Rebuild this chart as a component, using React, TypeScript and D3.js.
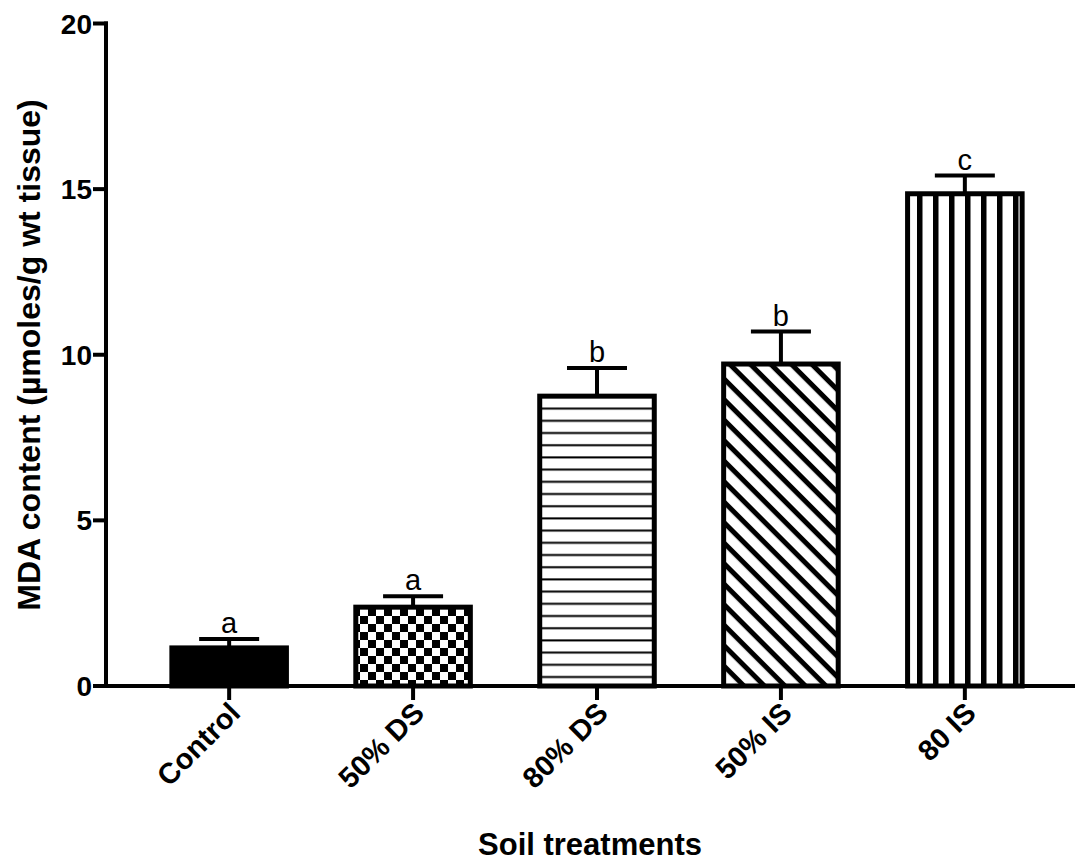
import React, { useEffect, useRef } from "react";
import * as d3 from "d3";

const categories = ["Control", "50% DS", "80% DS", "50% IS", "80 IS"];
const means = [1.15, 2.38, 8.75, 9.72, 14.86];
const errors = [0.27, 0.33, 0.85, 0.98, 0.55];
const letters = ["a", "a", "b", "b", "c"];
const patterns = ["solid", "checker", "hlines", "diag", "vlines"];
const yTicks = [0, 5, 10, 15, 20];

const App = () => {
  const ref = useRef<SVGSVGElement>(null);

  useEffect(() => {
    const svg = d3.select(ref.current);
    svg.selectAll("*").remove();

    const width = 1076, height = 862;
    const font = "'Liberation Sans', Arial, sans-serif";

    const x = d3.scaleBand().domain(categories).range([105, 1089]).padding(0.35);
    const y = d3.scaleLinear().domain([0, 20]).range([686, 23.5]);

    const defs = svg.append("defs");

    // checkerboard
    const chk = defs.append("pattern").attr("id", "p-checker")
      .attr("patternUnits", "userSpaceOnUse").attr("width", 16).attr("height", 16);
    chk.append("rect").attr("width", 16).attr("height", 16).attr("fill", "#fff");
    chk.append("rect").attr("width", 8).attr("height", 8).attr("fill", "#000");
    chk.append("rect").attr("x", 8).attr("y", 8).attr("width", 8).attr("height", 8).attr("fill", "#000");

    // horizontal lines
    const hl = defs.append("pattern").attr("id", "p-hlines")
      .attr("patternUnits", "userSpaceOnUse").attr("width", 12).attr("height", 12.2);
    hl.append("rect").attr("width", 12).attr("height", 12.2).attr("fill", "#fff");
    hl.append("rect").attr("y", 5).attr("width", 12).attr("height", 2).attr("fill", "#000");

    // diagonal lines (\ direction)
    const dg = defs.append("pattern").attr("id", "p-diag")
      .attr("patternUnits", "userSpaceOnUse").attr("width", 14.5).attr("height", 14.5)
      .attr("patternTransform", "rotate(45)");
    dg.append("rect").attr("width", 14.5).attr("height", 14.5).attr("fill", "#fff");
    dg.append("rect").attr("x", 0).attr("width", 14.5).attr("height", 5).attr("fill", "#000");

    // vertical lines
    const vl = defs.append("pattern").attr("id", "p-vlines")
      .attr("patternUnits", "userSpaceOnUse").attr("width", 16).attr("height", 16)
      .attr("x", 5);
    vl.append("rect").attr("width", 16).attr("height", 16).attr("fill", "#fff");
    vl.append("rect").attr("x", 0).attr("width", 5.5).attr("height", 16).attr("fill", "#000");

    const fillFor = (p: string) => (p === "solid" ? "#000" : `url(#p-${p})`);

    // error bars (upper only)
    const g = svg.append("g");
    categories.forEach((c, i) => {
      const cx = x(c)! + x.bandwidth() / 2;
      g.append("line").attr("x1", cx).attr("x2", cx)
        .attr("y1", y(means[i])).attr("y2", y(means[i] + errors[i]))
        .attr("stroke", "#000").attr("stroke-width", 4);
      g.append("line").attr("x1", cx - 30).attr("x2", cx + 30)
        .attr("y1", y(means[i] + errors[i])).attr("y2", y(means[i] + errors[i]))
        .attr("stroke", "#000").attr("stroke-width", 4);
      g.append("text").attr("x", cx).attr("y", y(means[i] + errors[i]) - 6)
        .attr("text-anchor", "middle").attr("font-family", font).attr("font-size", 29)
        .text(letters[i]);
    });

    // bars
    svg.append("g").selectAll("rect").data(categories).enter().append("rect")
      .attr("x", (d) => x(d)! + 2.5)
      .attr("y", (d, i) => y(means[i]))
      .attr("width", x.bandwidth() - 5)
      .attr("height", (d, i) => y(0) - y(means[i]))
      .attr("fill", (d, i) => fillFor(patterns[i]))
      .attr("stroke", "#000").attr("stroke-width", 5);

    // Y axis
    const ya = svg.append("g");
    ya.append("line").attr("x1", 106).attr("x2", 106).attr("y1", y(20) - 2).attr("y2", y(0) + 2)
      .attr("stroke", "#000").attr("stroke-width", 4);
    yTicks.forEach((t) => {
      ya.append("line").attr("x1", 93).attr("x2", 108).attr("y1", y(t)).attr("y2", y(t))
        .attr("stroke", "#000").attr("stroke-width", 4);
      ya.append("text").attr("x", 92).attr("y", y(t)).attr("dy", "0.36em")
        .attr("text-anchor", "end").attr("font-family", font).attr("font-weight", "bold")
        .attr("font-size", 28).text(t);
    });

    // X axis
    const xa = svg.append("g");
    xa.append("line").attr("x1", 104).attr("x2", 1075).attr("y1", y(0)).attr("y2", y(0))
      .attr("stroke", "#000").attr("stroke-width", 4);
    categories.forEach((c) => {
      const cx = x(c)! + x.bandwidth() / 2;
      xa.append("line").attr("x1", cx).attr("x2", cx).attr("y1", y(0)).attr("y2", y(0) + 14)
        .attr("stroke", "#000").attr("stroke-width", 4);
      xa.append("text")
        .attr("transform", `translate(${cx - 2},${y(0) + 14}) rotate(-45)`)
        .attr("text-anchor", "end").attr("dy", "0.72em")
        .attr("font-family", font).attr("font-weight", "bold").attr("font-size", 29)
        .text(c);
    });

    // axis titles
    svg.append("text").attr("x", 590).attr("y", 855)
      .attr("text-anchor", "middle").attr("font-family", font).attr("font-weight", "bold")
      .attr("font-size", 31).text("Soil treatments");
    svg.append("text").attr("transform", `translate(40,355) rotate(-90)`)
      .attr("text-anchor", "middle").attr("font-family", font).attr("font-weight", "bold")
      .attr("font-size", 32).text("MDA content (µmoles/g wt tissue)");

    svg.attr("width", width).attr("height", height);
  }, []);

  return (
    <div style={{ position: "absolute", left: 0, top: 0 }}>
      <svg ref={ref} width={1076} height={862} style={{ display: "block", background: "#fff" }} />
    </div>
  );
};

export default App;
